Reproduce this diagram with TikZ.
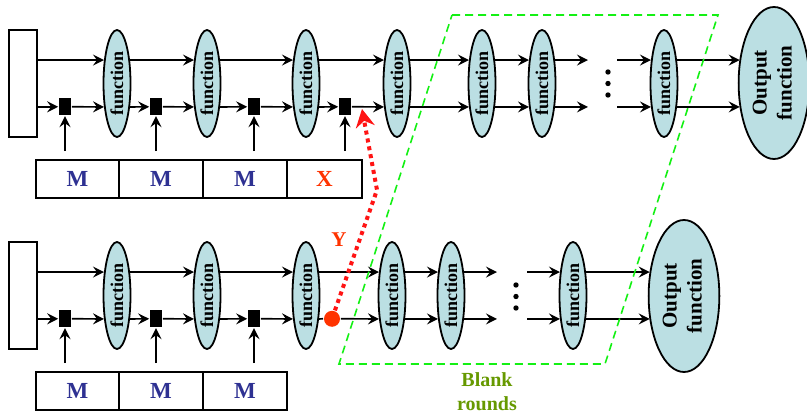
\documentclass[tikz,border=0pt]{standalone}
\usepackage{fontspec}
\setmainfont{Liberation Serif}
\usepackage{graphicx}
\usetikzlibrary{shapes.geometric,arrows.meta}

\definecolor{fnfill}{RGB}{187,223,227}
\definecolor{memblue}{RGB}{46,49,146}
\definecolor{xred}{RGB}{255,51,0}
\definecolor{dotred}{RGB}{255,20,20}
\definecolor{blankgreen}{RGB}{20,240,20}
\definecolor{olive}{RGB}{102,153,0}

\newcommand{\fntext}{\rotatebox{90}{function}}
\newcommand{\outtext}{\rotatebox{90}{\begin{tabular}{@{}c@{}}Output\\function\end{tabular}}}

\tikzset{
  fn/.style={ellipse,draw,line width=1.8pt,fill=fnfill,minimum width=27pt,minimum height=107pt,inner sep=0pt,font=\fontsize{18pt}{20pt}\selectfont\bfseries},
  outfn/.style={ellipse,draw,line width=1.8pt,fill=fnfill,minimum width=63pt,minimum height=152pt,inner sep=0pt,font=\fontsize{21pt}{25pt}\selectfont\bfseries},
  inbox/.style={rectangle,draw,line width=1.8pt,minimum width=28pt,minimum height=107pt},
  gate/.style={rectangle,fill=black,minimum width=12pt,minimum height=17pt,inner sep=0pt},
  cell/.style={rectangle,draw,line width=1.8pt,minimum height=38pt,inner sep=0pt,text=memblue,font=\fontsize{23pt}{25pt}\selectfont\bfseries},
}

\begin{document}
\begin{tikzpicture}[x=1pt,y=-1pt,line width=1.7pt,
  >={Stealth[length=11pt,width=11pt,inset=4pt]}]
\useasboundingbox (0,0) rectangle (807,417);

% Top chain
\node[inbox] (inA) at (23,83.5) {};
\node[fn] (fA1) at (117,83.5) {\fntext};
\node[fn] (fA2) at (207,83.5) {\fntext};
\node[fn] (fA3) at (306,83.5) {\fntext};
\node[fn] (fA4) at (397,83.5) {\fntext};
\node[fn] (fA5) at (482,83.5) {\fntext};
\node[fn] (fA6) at (542,83.5) {\fntext};
\node[fn] (fA7) at (664,83.5) {\fntext};
\node[outfn] (outA) at (774,83) {\outtext};

\node[gate] (gA1) at (65,106.8) {};
\node[gate] (gA2) at (156,106.8) {};
\node[gate] (gA3) at (254,106.8) {};
\node[gate] (gA4) at (345,106.8) {};

\coordinate (gapA1) at (588,83.5);
\coordinate (gapA2) at (617,83.5);

% Top memory
\node[cell,minimum width=83pt] (mA1) at (77.5,179) {M};
\node[cell,minimum width=84pt] (mA2) at (161,179) {M};
\node[cell,minimum width=84pt] (mA3) at (245,179) {M};
\node[cell,minimum width=75pt,text=xred] (mA4) at (324.5,179) {X};

\draw[->] (inA.east |- fA1.119) -- (fA1.119);
\draw[->] (inA.east |- gA1) -- (gA1.west);
\draw[->] (gA1.east) -- (fA1.241);
\draw[->] (fA1.61) -- (fA2.119);
\draw[->] (fA1.299) -- (gA2.west);
\draw[->] (gA2.east) -- (fA2.241);
\draw[->] (fA2.61) -- (fA3.119);
\draw[->] (fA2.299) -- (gA3.west);
\draw[->] (gA3.east) -- (fA3.241);
\draw[->] (fA3.61) -- (fA4.119);
\draw[->] (fA3.299) -- (gA4.west);
\draw[->] (gA4.east) -- (fA4.241);
\draw[->] (fA4.61) -- (fA5.119);
\draw[->] (fA4.299) -- (fA5.241);
\draw[->] (fA5.61) -- (fA6.119);
\draw[->] (fA5.299) -- (fA6.241);
\draw[->] (fA6.61) -- (fA6.61 -| gapA1);
\draw[->] (fA6.299) -- (fA6.299 -| gapA1);
\draw[->] (gapA2 |- fA7.119) -- (fA7.119);
\draw[->] (gapA2 |- fA7.241) -- (fA7.241);
\draw[->,shorten >=-2pt] (fA7.61) -- (fA7.61 -| outA.west);
\draw[->,shorten >=-2pt] (fA7.299) -- (fA7.299 -| outA.west);

\draw[->,shorten <=8pt] (gA1 |- mA1.north) -- (gA1.south);
\draw[->,shorten <=8pt] (gA2 |- mA2.north) -- (gA2.south);
\draw[->,shorten <=8pt] (gA3 |- mA3.north) -- (gA3.south);
\draw[->,shorten <=8pt] (gA4 |- mA4.north) -- (gA4.south);

\fill (608,72) circle[radius=2.7pt];
\fill (608,83.5) circle[radius=2.7pt];
\fill (608,95) circle[radius=2.7pt];

% Bottom chain
\node[inbox] (inB) at (23,295.5) {};
\node[fn] (fB1) at (117,295.5) {\fntext};
\node[fn] (fB2) at (207,295.5) {\fntext};
\node[fn] (fB3) at (306,295.5) {\fntext};
\node[fn] (fB4) at (392,295.5) {\fntext};
\node[fn] (fB5) at (451,295.5) {\fntext};
\node[fn] (fB6) at (573,295.5) {\fntext};
\node[outfn] (outB) at (684,296) {\outtext};

\node[gate] (gB1) at (65,318.8) {};
\node[gate] (gB2) at (156,318.8) {};
\node[gate] (gB3) at (254,318.8) {};

\coordinate (gapB1) at (497,295.5);
\coordinate (gapB2) at (527,295.5);

% Bottom memory
\node[cell,minimum width=83pt] (mB1) at (77.5,391) {M};
\node[cell,minimum width=84pt] (mB2) at (161,391) {M};
\node[cell,minimum width=84pt] (mB3) at (245,391) {M};

\draw[->] (inB.east |- fB1.119) -- (fB1.119);
\draw[->] (inB.east |- gB1) -- (gB1.west);
\draw[->] (gB1.east) -- (fB1.241);
\draw[->] (fB1.61) -- (fB2.119);
\draw[->] (fB1.299) -- (gB2.west);
\draw[->] (gB2.east) -- (fB2.241);
\draw[->] (fB2.61) -- (fB3.119);
\draw[->] (fB2.299) -- (gB3.west);
\draw[->] (gB3.east) -- (fB3.241);
\draw[->] (fB3.61) -- (fB4.119);
\draw[->] (fB4.61) -- (fB5.119);
\draw[->] (fB4.299) -- (fB5.241);
\draw[->] (fB5.61) -- (fB5.61 -| gapB1);
\draw[->] (fB5.299) -- (fB5.299 -| gapB1);
\draw[->] (gapB2 |- fB6.119) -- (fB6.119);
\draw[->] (gapB2 |- fB6.241) -- (fB6.241);
\draw[->,shorten >=-2pt] (fB6.61) -- (fB6.61 -| outB.west);
\draw[->,shorten >=-2pt] (fB6.299) -- (fB6.299 -| outB.west);

\draw[->,shorten <=8pt] (gB1 |- mB1.north) -- (gB1.south);
\draw[->,shorten <=8pt] (gB2 |- mB2.north) -- (gB2.south);
\draw[->,shorten <=8pt] (gB3 |- mB3.north) -- (gB3.south);

\fill (516,285) circle[radius=2.7pt];
\fill (516,296.5) circle[radius=2.7pt];
\fill (516,308) circle[radius=2.7pt];

% Red link
\node[circle,fill=xred,minimum size=16pt,inner sep=0pt] (spot) at (332,318.8) {};
\draw (fB3.299) -- (spot.west);
\draw[->] (spot.east) -- (fB4.241);

\coordinate (bendY) at (377,190);
\coordinate (tipY) at (362,109);
\draw[dotred,line width=4pt,dash pattern=on 4pt off 4pt,
  -{Stealth[length=18pt,width=19pt,inset=6pt]}] (spot) -- (bendY) -- (tipY);
\node[text=xred,font=\fontsize{21pt}{23pt}\selectfont\bfseries] (ylab) at (339,240) {Y};

% Blank rounds
\draw[blankgreen,line width=1.6pt,dash pattern=on 8pt off 5pt]
  (452,15) -- (718,15) -- (605,364) -- (339,364) -- cycle;
\node[text=olive,align=center,inner sep=0pt,
  font=\fontsize{20pt}{24pt}\selectfont\bfseries] (blank) at (487,392) {Blank\\rounds};

\end{tikzpicture}
\end{document}
